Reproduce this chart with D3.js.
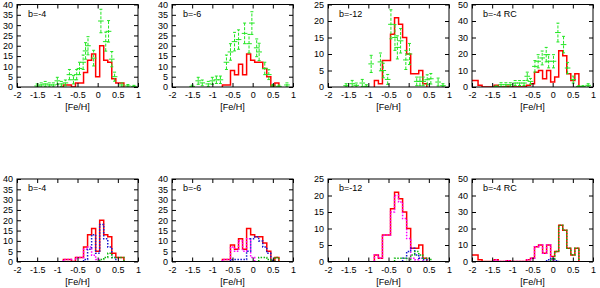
<!DOCTYPE html>
<html>
<head>
<meta charset="utf-8">
<script src="https://cdn.jsdelivr.net/npm/d3@7"></script>
<style>
  body { margin: 0; background: #fff; }
  svg { display: block; }
  text { font-family: "Liberation Sans", Arial, sans-serif; font-size: 9px; fill: #000; }
</style>
</head>
<body>
<script>
// bin centres of the [Fe/H] histograms (width 0.1)
const BINS = [-2.0, -1.9, -1.8, -1.7, -1.6, -1.5, -1.4, -1.3, -1.2, -1.1,
              -1.0, -0.9, -0.8, -0.7, -0.6, -0.5, -0.4, -0.3, -0.2, -0.1,
               0.0,  0.1,  0.2,  0.3,  0.4,  0.5,  0.6,  0.7,  0.8,  0.9];
const BIN_WIDTH = 0.1;

const X_TICKS = [-2, -1.5, -1, -0.5, 0, 0.5, 1];
const FIELDS = ["b=-4", "b=-6", "b=-12", "b=-4 RC"];
const Y_MAX = [40, 40, 25, 50];
const Y_STEP = [5, 5, 5, 10];

// observed histograms (red)
const red_b4  = [0,0,0,0,0,0,0,0,0,0, 0,0,1,1,0,2,2,7,13,16, 5,20,13,12,4,2,2,0,0,0];
const red_b6  = [0,0,0,0,0,0,0,0,0,0, 0,0,0,1,1,8,6,11,6,16, 13,12,12,9,5,0.5,2,0,0,0];
const red_b12 = [0,0,0,0,0,0,0,0,0,0, 0,0,2,1,8,8,16,21,19,15, 10,4,4,5,1,0,0,0,0,0];
const red_rc  = [4,4,1,0,0,0,1,0,0,0.5, 0,0,0,0,1,2,9,10,5,10, 3,6,22,19,8,4,8,0,0,0];

// model components (bottom row): magenta, blue, green
const mag_b4  = [0,0,0,0,0,0,0,0,0,0, 0,0,1,1,0,2,2,6,7,3, 1,0,0,0,0,0,0,0,0,0];
const blue_b4 = [0,0,0,0,0,0,0,0,0,0, 0,0,0,0,0,0,0,1,6,13, 4,18,11,7,2,0,0,0,0,0];
const grn_b4  = [0,0,0,0,0,0,0,0,0,0, 0,0,0,0,0,0,0,0,0,0, 0,1,2,4,2,2,2,0,0,0];

const mag_b6  = [0,0,0,0,0,0,0,0,0,0, 0,0,0,1,1,7,5,10,5,11, 2,0,0,0,0,0,0,0,0,0];
const blue_b6 = [0,0,0,0,0,0,0,0,0,0, 0,0,0,0,0,1,1,1,1,5, 11,12,10,7,4,0.5,0,0,0,0];
const grn_b6  = [0,0,0,0,0,0,0,0,0,0, 0,0,0,0,0,0,0,0,0,0, 0,0,2,2,1,0,2,0,0,0];

const mag_b12  = [0,0,0,0,0,0,0,0,0,0, 0,0,2,1,8,8,15,20,18,13, 7,1,0.5,1,0,0,0,0,0,0];
const blue_b12 = [0,0,0,0,0,0,0,0,0,0, 0,0,0,0,0,0,0,0,0,1, 3,4,2,1,0.5,0,0,0,0,0];
const grn_b12  = [0,0,0,0,0,0,0,0,0,0, 0,0,0,0,0,0,0,1,1,1, 0,2,3,2,1,1,0,0,0,0];

const mag_rc  = [0,0,0,0,0,0,1,0,0,0.5, 0,0,0,0,1,2,9,10,5,10, 1,0,0,0,0,0,0,0,0,0];
const blue_rc = [0,0,0,0,0,0,0,0,0,0, 0,0,0,0,0,0,0,0,0,1, 2,0.5,0,0,0,0,0,0,0,0];
const grn_rc  = [0,0,0,0,0,0,0,0,0,0, 0,0,0,0,0,0,0,0,0,0, 1.5,6,22,19,8,4,8,0,0,0];

// comparison sample with error bars (green): [feh, N, err]
const pts_b4 = [[-1.5,0.5,1],[-1.4,1,1],[-1.3,1.5,1.2],[-1.2,1,1],[-1.1,1,1],[-1.0,3,1.7],
  [-0.9,1.5,1.2],[-0.8,2,1.4],[-0.7,6,2.5],[-0.6,3.5,2],[-0.52,6,2.5],[-0.45,9,3],[-0.36,12,3.5],
  [-0.3,17.5,4],[-0.24,20,4.4],[-0.1,14,3.8],[0.08,32,5.7],[0.2,22,4.6],[0.27,27,5.2],
  [0.35,13.5,3.7],[0.42,5,2.2],[0.6,1,1],[0.75,0.5,0.7],[0.9,0.3,0.5]];
const pts_b6 = [[-1.5,0.3,0.6],[-1.35,3,1.7],[-1.25,2,1.4],[-1.1,1.5,1.2],[-1.0,3,1.7],
  [-0.9,3.5,1.8],[-0.8,3.5,1.8],[-0.65,12,3.5],[-0.55,17,4],[-0.45,22,4.5],[-0.35,23,4.7],
  [-0.2,26,5],[-0.09,21,4.5],[-0.02,31,5.5],[0.1,19,4.3],[0.16,17,4.2],[0.3,9,3],[0.4,6,2.4],
  [0.5,0.5,0.7],[0.65,0.3,0.6],[0.85,1,1]];
const pts_b12 = [[-1.55,0.4,0.6],[-1.4,1,1],[-1.3,0.5,0.7],[-1.15,1.2,1.1],[-1.05,0.2,0.5],
  [-0.93,7,2.6],[-0.7,7.6,2.7],[-0.63,5,2.2],[-0.52,2.3,1.5],[-0.44,19,4.4],[-0.34,15,3.9],
  [-0.28,12,3.5],[-0.2,14,3.7],[-0.07,8.2,2.9],[0.02,10,3.2],[0.2,1.7,1.3],
  [0.28,1.7,1.3],[0.36,1.7,1.3],[0.46,2.2,1.5],[0.55,2.5,1.6],[0.73,1.5,1.2],[0.85,0.4,0.6]];
const pts_rc = [[-1.4,0.2,0.5],[-1.28,1.4,1.2],[-1.16,1.4,1.2],[-1.05,1.4,1.2],[-0.93,2.4,1.5],
  [-0.82,2.4,1.5],[-0.71,2.4,1.5],[-0.63,6.5,2.5],[-0.55,3.4,1.8],[-0.44,12.5,3.5],
  [-0.36,15.6,4],[-0.26,17.6,4.2],[-0.16,19.6,4.4],[-0.1,15.6,4],[0.02,15.6,4],[0.13,33,5.7],
  [0.27,25.7,5],[0.37,11.5,3.4],[0.51,4.5,2.1],[0.65,0.3,0.5],[0.75,0.3,0.5],[0.88,1,1]];

const RED = [red_b4, red_b6, red_b12, red_rc];
const POINTS = [pts_b4, pts_b6, pts_b12, pts_rc];
const COMPONENTS = [
  [mag_b4, blue_b4, grn_b4],
  [mag_b6, blue_b6, grn_b6],
  [mag_b12, blue_b12, grn_b12],
  [mag_rc, blue_rc, grn_rc],
];

const COLORS = { red: "#ff0000", green: "#22e622", magenta: "#ff00ff", blue: "#1a1ad0", dkgreen: "#10b810" };

const width = 600;
const height = 288;
const colLeft = [17, 172, 328, 472];
const plotW = 121;
const rowTop = [4.5, 179];
const plotH = 82.5;

const svg = d3.select("body")
  .append("svg")
  .attr("width", width)
  .attr("height", height);

const stepLine = d3.line().curve(d3.curveStepAfter);

function histPath(values, x, y) {
  const idx = values.map((v, i) => v > 0 ? i : -1).filter(i => i >= 0);
  if (!idx.length) return null;
  const first = idx[0], last = idx[idx.length - 1];
  const pts = [[x(BINS[first] - BIN_WIDTH / 2), y(0)]];
  for (let i = first; i <= last; i++) pts.push([x(BINS[i] - BIN_WIDTH / 2), y(values[i])]);
  pts.push([x(BINS[last] + BIN_WIDTH / 2), y(0)]);
  return stepLine(pts);
}

function drawPanel(row, col) {
  const left = colLeft[col];
  const top = rowTop[row];
  const x = d3.scaleLinear().domain([-2, 1]).range([left, left + plotW]);
  const y = d3.scaleLinear().domain([0, Y_MAX[col]]).range([top + plotH, top]);
  const yTicks = d3.range(0, Y_MAX[col] + 0.01, Y_STEP[col]);
  const g = svg.append("g");
  const clipId = `clip-${row}-${col}`;

  g.append("clipPath").attr("id", clipId)
    .append("rect")
    .attr("x", left).attr("y", top)
    .attr("width", plotW).attr("height", plotH);

  const data = g.append("g").attr("clip-path", `url(#${clipId})`);

  // observed histogram
  data.append("path")
    .attr("d", histPath(RED[col], x, y))
    .attr("fill", "none")
    .attr("stroke", COLORS.red)
    .attr("stroke-width", 1.5);

  if (row === 0) {
    const pts = data.append("g")
      .attr("stroke", COLORS.green)
      .attr("stroke-width", 1);
    POINTS[col].forEach(([fx, n, err]) => {
      const lo = y(Math.max(0, n - err)), hi = y(n + err);
      pts.append("line")
        .attr("x1", x(fx)).attr("x2", x(fx))
        .attr("y1", lo).attr("y2", hi)
        .attr("stroke-dasharray", "3,1.5");
      pts.append("line")
        .attr("x1", x(fx) - 1.5).attr("x2", x(fx) + 1.5)
        .attr("y1", hi).attr("y2", hi);
      pts.append("line")
        .attr("x1", x(fx) - 1.5).attr("x2", x(fx) + 1.5)
        .attr("y1", lo).attr("y2", lo);
      pts.append("line")
        .attr("x1", x(fx - 0.07)).attr("x2", x(fx + 0.07))
        .attr("y1", y(n)).attr("y2", y(n));
    });
  } else {
    const compColors = [COLORS.magenta, COLORS.blue, COLORS.dkgreen];
    COMPONENTS[col].forEach((vals, k) => {
      const d = histPath(vals, x, y);
      if (!d) return;
      data.append("path")
        .attr("d", d)
        .attr("fill", "none")
        .attr("stroke", compColors[k])
        .attr("stroke-width", 1.5)
        .attr("stroke-dasharray", "1.5,1.5");
    });
  }

  // axes with inward ticks on all four sides
  const fmt = d => String(d);
  g.append("g")
    .attr("transform", `translate(0,${top + plotH})`)
    .call(d3.axisBottom(x).tickValues(X_TICKS).tickSizeInner(-4).tickSizeOuter(0).tickPadding(5).tickFormat(fmt));
  g.append("g")
    .attr("transform", `translate(0,${top})`)
    .call(d3.axisTop(x).tickValues(X_TICKS).tickSizeInner(-4).tickSizeOuter(0).tickFormat(""));
  g.append("g")
    .attr("transform", `translate(${left},0)`)
    .call(d3.axisLeft(y).tickValues(yTicks).tickSizeInner(-4).tickSizeOuter(0).tickPadding(4).tickFormat(fmt));
  g.append("g")
    .attr("transform", `translate(${left + plotW},0)`)
    .call(d3.axisRight(y).tickValues(yTicks).tickSizeInner(-4).tickSizeOuter(0).tickFormat(""));

  g.selectAll(".domain").remove();
  g.selectAll(".tick line").attr("stroke", "#000");
  g.selectAll(".tick text").style("font-size", "9px").style("font-family", "Liberation Sans, Arial, sans-serif");

  g.append("rect")
    .attr("x", left).attr("y", top)
    .attr("width", plotW).attr("height", plotH)
    .attr("fill", "none")
    .attr("stroke", "#000")
    .attr("stroke-width", 1);

  g.append("text")
    .attr("x", left + 11)
    .attr("y", top + 12)
    .text(FIELDS[col]);

  g.append("text")
    .attr("x", left + plotW / 2)
    .attr("y", top + plotH + 23)
    .attr("text-anchor", "middle")
    .text("[Fe/H]");
}

for (let row = 0; row < 2; row++) {
  for (let col = 0; col < 4; col++) drawPanel(row, col);
}
</script>
</body>
</html>
